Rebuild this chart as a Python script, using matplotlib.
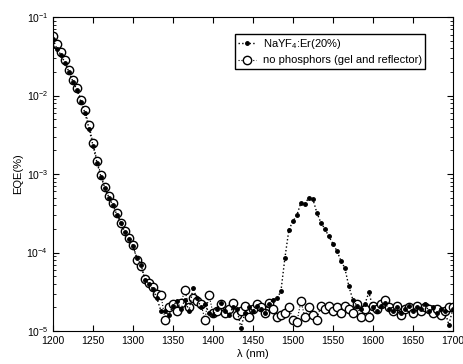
import numpy as np
import matplotlib
matplotlib.use("Agg")
import matplotlib.pyplot as plt
from matplotlib.ticker import MultipleLocator, LogLocator

plt.rcParams["font.family"] = ["Liberation Sans", "DejaVu Sans"]
plt.rcParams["mathtext.default"] = "regular"

# wavelength grid (nm)
wl = list(range(1200, 1705, 5))

# NaYF4:Er(20%) EQE (%)
eqe_er = [
    0.052, 0.039, 0.033, 0.026, 0.020, 0.015, 0.0118, 0.0082, 0.0060, 0.0038,
    0.0023, 0.0014, 0.00092, 0.00066, 0.0005, 0.0004, 0.0003, 0.000235, 0.00018, 0.00015,
    0.00012, 0.000085, 0.00007, 0.000045, 0.00004, 0.000034, 0.000026, 0.000018,
    1.8e-5, 1.6e-5, 2.1e-5, 2.4e-5, 1.9e-5, 2.5e-5, 1.8e-5, 3.5e-5, 2.6e-5, 2.0e-5,
    2.2e-5, 1.7e-5, 1.6e-5, 1.9e-5, 2.3e-5, 1.8e-5, 1.6e-5, 2.0e-5, 1.9e-5, 1.1e-5,
    1.7e-5, 2.0e-5, 1.8e-5, 2.1e-5, 1.9e-5, 1.7e-5, 2.2e-5, 2.5e-5, 2.6e-5, 3.2e-5,
    8.5e-5, 1.95e-4, 2.5e-4, 3.0e-4, 4.3e-4, 4.2e-4, 5.0e-4, 4.8e-4, 3.2e-4, 2.4e-4,
    2.0e-4, 1.6e-4, 1.3e-4, 1.05e-4, 7.9e-5, 6.3e-5, 3.7e-5, 2.5e-5, 2.1e-5, 1.9e-5,
    2.2e-5, 3.1e-5, 2.0e-5, 1.8e-5, 2.1e-5, 2.3e-5, 1.9e-5, 1.8e-5, 2.0e-5, 1.7e-5,
    1.9e-5, 2.1e-5, 1.8e-5, 2.0e-5, 1.9e-5, 2.2e-5, 1.8e-5, 2.0e-5, 1.7e-5, 1.9e-5,
    1.8e-5, 1.2e-5, 1.9e-5,
]

# no phosphors (gel and reflector) EQE (%)
eqe_ref = [
    0.057, 0.045, 0.036, 0.028, 0.021, 0.016, 0.0124, 0.0089, 0.0065, 0.0042,
    0.0025, 0.00148, 0.00098, 0.00068, 0.00052, 0.00043, 0.00032, 0.00024, 0.00019, 0.000155,
    0.000125, 0.00008, 0.000068, 0.000046, 0.000041, 0.000036, 0.00003, 0.000029,
    1.4e-5, 2.0e-5, 2.2e-5, 1.8e-5, 2.3e-5, 3.3e-5, 2.0e-5, 2.6e-5, 2.4e-5, 2.2e-5,
    1.4e-5, 2.9e-5, 1.7e-5, 1.8e-5, 2.2e-5, 1.7e-5, 1.9e-5, 2.3e-5, 1.6e-5, 1.8e-5,
    2.1e-5, 1.5e-5, 1.9e-5, 2.2e-5, 2.0e-5, 1.7e-5, 2.3e-5, 1.9e-5, 1.5e-5, 1.6e-5,
    1.7e-5, 2.0e-5, 1.4e-5, 1.3e-5, 2.4e-5, 1.5e-5, 2.0e-5, 1.6e-5, 1.4e-5, 2.1e-5,
    1.9e-5, 2.1e-5, 1.8e-5, 2.0e-5, 1.7e-5, 2.1e-5, 1.9e-5, 1.7e-5, 2.2e-5, 1.5e-5,
    1.9e-5, 1.5e-5, 2.1e-5, 1.9e-5, 2.2e-5, 2.5e-5, 2.0e-5, 1.8e-5, 2.1e-5, 1.6e-5,
    1.9e-5, 2.0e-5, 1.7e-5, 2.1e-5, 1.8e-5, 2.0e-5, 1.9e-5, 1.7e-5, 1.9e-5, 1.6e-5,
    1.8e-5, 2.0e-5, 2.0e-5,
]

fig = plt.figure(figsize=(4.63, 3.64), dpi=100)
ax = fig.add_axes([0.1145, 0.0907, 0.8635, 0.8623])

l2, = ax.semilogy(wl, eqe_ref, ls=":", lw=0.8, color="black", marker="o",
                  ms=6, mfc="white", mec="black", mew=1.0, zorder=2,
                  label="no phosphors (gel and reflector)")
l1, = ax.semilogy(wl, eqe_er, ls=":", lw=1.0, color="black", marker=".",
                  ms=5, zorder=3, label="NaYF$_4$:Er(20%)")

ax.set_xlim(1200, 1700)
ax.set_ylim(1e-5, 1e-1)
ax.xaxis.set_major_locator(MultipleLocator(50))
ax.yaxis.set_major_locator(LogLocator(base=10, numticks=10))
ax.yaxis.set_minor_locator(LogLocator(base=10, subs=np.arange(2, 10), numticks=10))
ax.tick_params(which="both", direction="in", top=True, right=True, labelsize=7.5)
ax.tick_params(which="major", length=4)
ax.tick_params(which="minor", length=2)

ax.set_xlabel("λ (nm)", fontsize=8, labelpad=2)
ax.set_ylabel("EQE(%)", fontsize=8, labelpad=2)

ax.legend(handles=[l1, l2], loc="upper right", fontsize=8, frameon=True,
          fancybox=False, edgecolor="black", framealpha=1,
          bbox_to_anchor=(0.945, 0.965), handlelength=1.6, borderpad=0.3,
          labelspacing=0.4, handletextpad=0.6)

fig.savefig("out.png", dpi=100)
